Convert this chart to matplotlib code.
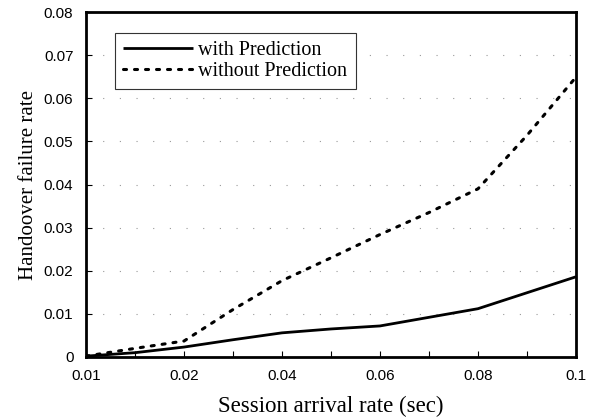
import numpy as np
import matplotlib
matplotlib.use("Agg")
import matplotlib.pyplot as plt

# -----------------------------
# Data
# (category axis, 11 points)
# -----------------------------
arrival_rate = ["0.01", "0.015", "0.02", "0.03", "0.04", "0.05",
                "0.06", "0.07", "0.08", "0.09", "0.1"]
with_prediction = [0.0002, 0.0010, 0.0023, 0.0040, 0.0056, 0.0065,
                   0.0072, 0.0092, 0.0112, 0.0149, 0.0186]
without_prediction = [0.0002, 0.0020, 0.0037, 0.0110, 0.0177, 0.0230,
                      0.0284, 0.0335, 0.0390, 0.0514, 0.0649]
tick_labels = ["0.01", "0.02", "0.04", "0.06", "0.08", "0.1"]
y_ticks = [0, 0.01, 0.02, 0.03, 0.04, 0.05, 0.06, 0.07, 0.08]

serif = ["Liberation Serif", "DejaVu Serif"]
sans = ["Liberation Sans", "DejaVu Sans"]

x = np.arange(len(arrival_rate))

fig = plt.figure(figsize=(5.98, 4.17), dpi=100)
ax = fig.add_axes([0.1438, 0.1439, 0.8194, 0.8273])

# sparse dotted grid like the scanned original
for yv in y_ticks[1:-1]:
    ax.axhline(yv, color="#999999", lw=0.8, ls=(0, (1, 14)), zorder=1)

ax.plot(x, with_prediction, color="black", lw=2.0, label="with Prediction",
        solid_capstyle="butt", zorder=3)
ax.plot(x, without_prediction, color="black", lw=2.2, ls=(0, (1, 2.6)),
        dash_capstyle="round", label="without Prediction", zorder=3)

ax.set_xlim(0, len(arrival_rate) - 1)
ax.set_ylim(0, 0.08)
ax.set_xticks(x[::2])
ax.set_xticklabels(tick_labels)
ax.set_xticks(x, minor=True)
ax.set_yticks(y_ticks)
ax.set_yticklabels(["0"] + [f"{v:.2f}" for v in y_ticks[1:]])

ax.tick_params(axis="both", which="both", direction="in", length=4, width=0.8,
               labelsize=11, colors="black")
ax.tick_params(axis="x", pad=9)
ax.tick_params(axis="y", pad=9)
for lab in ax.get_xticklabels() + ax.get_yticklabels():
    lab.set_family(sans)

for s in ax.spines.values():
    s.set_linewidth(2.0)
    s.set_color("black")

ax.set_xlabel("Session arrival rate (sec)", family=serif, fontsize=16.5, labelpad=9)
ax.set_ylabel("Handoover failure rate", family=serif, fontsize=15, labelpad=4)

leg = ax.legend(loc="upper left", bbox_to_anchor=(0.059, 0.939), borderaxespad=0,
                fancybox=False, edgecolor="#333333", framealpha=1, borderpad=0.4,
                handlelength=3.5, handletextpad=0.25, labelspacing=0.1,
                prop={"family": serif, "size": 14.5})
leg.get_frame().set_linewidth(0.8)

fig.savefig("out.png", dpi=100)
